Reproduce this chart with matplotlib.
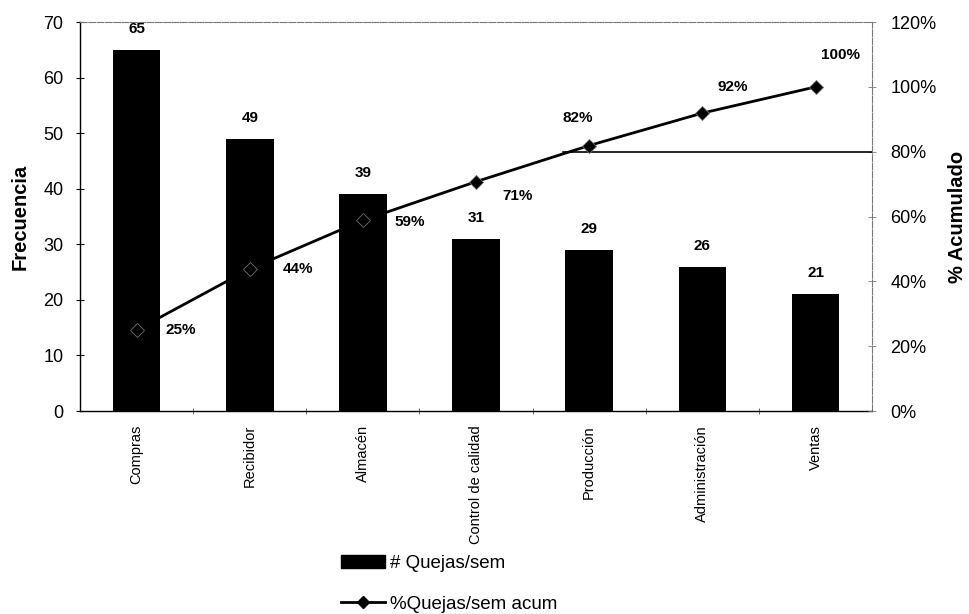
# Diagrama de Pareto: quejas por semana por departamento
import numpy as np
import matplotlib.pyplot as plt
from matplotlib.patches import Patch
from matplotlib.lines import Line2D

plt.rcParams['font.family'] = ['Liberation Sans', 'DejaVu Sans']

# Datos
departamentos = ["Compras", "Recibidor", "Almacén", "Control de calidad",
                 "Producción", "Administración", "Ventas"]
quejas = [65, 49, 39, 31, 29, 26, 21]

# Porcentaje acumulado
acum = np.cumsum(quejas) / np.sum(quejas) * 100
acum_labels = ["25%", "44%", "59%", "71%", "82%", "92%", "100%"]

fig = plt.figure(figsize=(9.69, 6.14), dpi=100)
ax = fig.add_axes([0.0826, 0.3306, 0.8174, 0.6334])
x = np.arange(len(departamentos))

# Barras de frecuencia
ax.bar(x, quejas, width=0.42, color="black")
for xi, q in zip(x, quejas):
    ax.text(xi, q + 2.5, str(q), ha="center", va="bottom",
            fontsize=11, fontweight="bold")

ax.set_xlim(-0.5, len(departamentos) - 0.5)
ax.set_ylim(0, 70)
ax.set_yticks(range(0, 71, 10))
ax.tick_params(axis="y", labelsize=13, direction="inout", length=6, width=0.8,
               pad=9)
ax.set_xticks(x)
ax.set_xticklabels(departamentos, rotation=90, fontsize=10.5)
ax.tick_params(axis="x", length=0, pad=10)
ax.set_xticks(np.arange(0.5, len(departamentos) - 0.5), minor=True)
ax.tick_params(axis="x", which="minor", direction="inout", length=5, width=0.6,
               color="#555555")
ax.set_ylabel("Frecuencia", fontsize=14.5, fontweight="bold")
ax.yaxis.set_label_coords(-0.064, 0.5)

for s in ["top", "right"]:
    ax.spines[s].set_color("#777777")
    ax.spines[s].set_linewidth(0.8)
    ax.spines[s].set_linestyle((0, (6, 1.5)))
ax.spines["left"].set_linewidth(1.0)
ax.spines["bottom"].set_linewidth(1.0)

# Eje secundario: porcentaje acumulado
ax2 = ax.twinx()
ax2.set_ylim(0, 120)
ax2.set_yticks(range(0, 121, 20))
ax2.set_yticklabels([f"{v}%" for v in range(0, 121, 20)])
ax2.tick_params(axis="y", labelsize=13, direction="inout", length=6, width=0.6,
                color="#777777", pad=10)
for s in ax2.spines.values():
    s.set_visible(False)
ax2.set_ylabel("% Acumulado", fontsize=14.5, fontweight="bold")
ax2.yaxis.set_label_coords(1.096, 0.5)

# Línea de referencia al 80%
ax2.axhline(80, xmin=0.61, xmax=1.0, color="black", linewidth=1.2)

ax2.plot(x, acum, color="black", linewidth=2, marker="D", markersize=7,
         markeredgecolor="#707070", markeredgewidth=0.6)
offsets = [(32, 0), (35, 0), (34, -1), (30, -10), (-8, 20), (22, 19), (18, 23)]
for xi, yi, lab, off in zip(x, acum, acum_labels, offsets):
    ax2.annotate(lab, (xi, yi), xytext=off, textcoords="offset points",
                 ha="center", va="center", fontsize=11, fontweight="bold")

# Leyenda debajo del gráfico
handles = [Patch(facecolor="black", edgecolor="black"),
           Line2D([0], [0], color="black", linewidth=2, marker="D", markersize=6)]
fig.legend(handles, ["# Quejas/sem", "%Quejas/sem acum"],
           loc="upper left", bbox_to_anchor=(0.335, 0.123), frameon=False,
           fontsize=13.5, handlelength=2.3, handletextpad=0.3, labelspacing=1.25)

fig.savefig("out.png", dpi=100)
